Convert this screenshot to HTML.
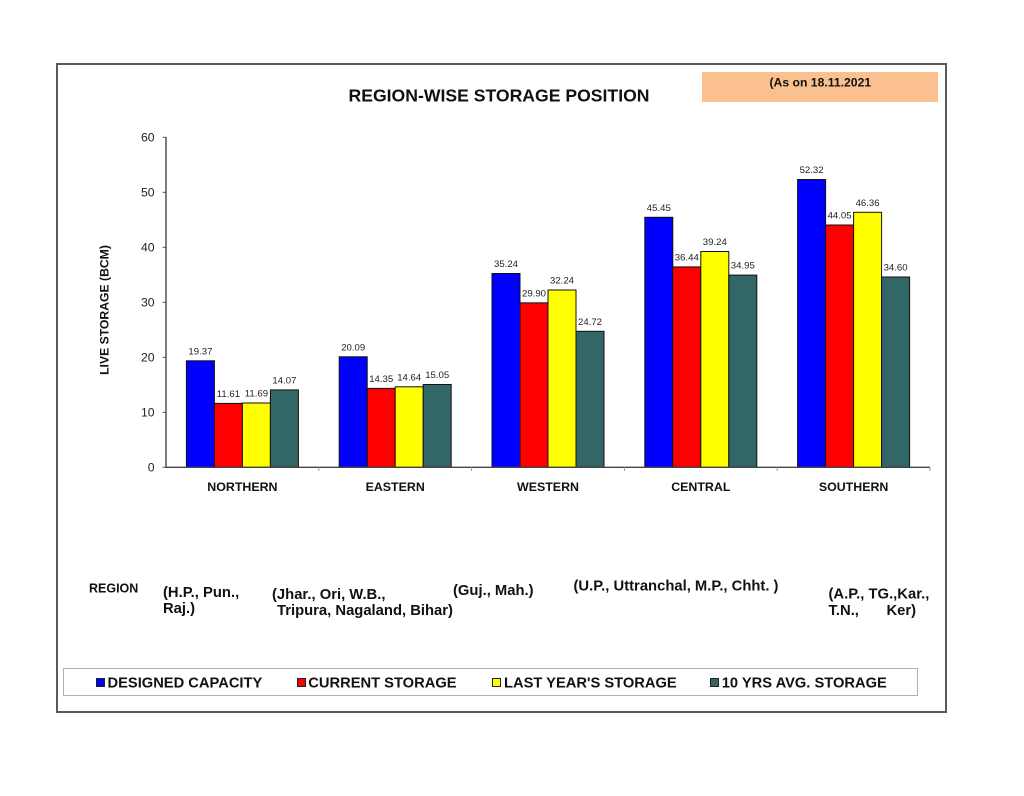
<!DOCTYPE html>
<html>
<head>
<meta charset="utf-8">
<style>
  html,body{margin:0;padding:0;background:#fff;}
  svg{display:block;}
  text{font-family:"Liberation Sans", Arial, sans-serif;}
</style>
</head>
<body>
<svg width="1024" height="796" viewBox="0 0 1024 796" xmlns="http://www.w3.org/2000/svg">
  <rect x="0" y="0" width="1024" height="796" fill="#fff"/>
  <!-- outer frame -->
  <rect x="57" y="64" width="889" height="648" fill="none" stroke="#5a5a5a" stroke-width="2"/>

  <!-- title -->
  <text x="348.5" y="101.3" font-size="17.5" font-weight="bold" fill="#111" textLength="301" lengthAdjust="spacingAndGlyphs">REGION-WISE STORAGE POSITION</text>

  <!-- date box -->
  <rect x="702" y="72" width="236" height="30" fill="#FAC090"/>
  <text x="769.5" y="86.7" font-size="12.2" font-weight="bold" fill="#111">(As on 18.11.2021</text>

  <!-- y axis title -->
  <text transform="translate(108.4,310) rotate(-90)" text-anchor="middle" font-size="12.2" font-weight="bold" fill="#111">LIVE STORAGE (BCM)</text>

  <!-- y axis ticks & labels -->
  <g font-size="12.2" fill="#222" text-anchor="end">
    <text x="154.5" y="471.6">0</text>
    <text x="154.5" y="416.6">10</text>
    <text x="154.5" y="361.6">20</text>
    <text x="154.5" y="306.6">30</text>
    <text x="154.5" y="251.6">40</text>
    <text x="154.5" y="196.6">50</text>
    <text x="154.5" y="141.6">60</text>
  </g>
  <g stroke="#555" stroke-width="1">
    <line x1="162.5" y1="467.3" x2="166" y2="467.3"/>
    <line x1="162.5" y1="412.3" x2="166" y2="412.3"/>
    <line x1="162.5" y1="357.3" x2="166" y2="357.3"/>
    <line x1="162.5" y1="302.3" x2="166" y2="302.3"/>
    <line x1="162.5" y1="247.3" x2="166" y2="247.3"/>
    <line x1="162.5" y1="192.3" x2="166" y2="192.3"/>
    <line x1="162.5" y1="137.3" x2="166" y2="137.3"/>
  </g>

  <!-- bars -->
  <g stroke="#111" stroke-width="1">
    <!-- Northern -->
    <rect x="186.4" y="360.8" width="28" height="106.5" fill="#0000FF"/>
    <rect x="214.4" y="403.4" width="28" height="63.9" fill="#FF0000"/>
    <rect x="242.4" y="403.0" width="28" height="64.3" fill="#FFFF00"/>
    <rect x="270.4" y="389.9" width="28" height="77.4" fill="#336666"/>
    <!-- Eastern -->
    <rect x="339.2" y="356.8" width="28" height="110.5" fill="#0000FF"/>
    <rect x="367.2" y="388.4" width="28" height="78.9" fill="#FF0000"/>
    <rect x="395.2" y="386.8" width="28" height="80.5" fill="#FFFF00"/>
    <rect x="423.2" y="384.5" width="28" height="82.8" fill="#336666"/>
    <!-- Western -->
    <rect x="492.0" y="273.5" width="28" height="193.8" fill="#0000FF"/>
    <rect x="520.0" y="302.85" width="28" height="164.45" fill="#FF0000"/>
    <rect x="548.0" y="290.0" width="28" height="177.3" fill="#FFFF00"/>
    <rect x="576.0" y="331.3" width="28" height="136.0" fill="#336666"/>
    <!-- Central -->
    <rect x="644.8" y="217.3" width="28" height="250.0" fill="#0000FF"/>
    <rect x="672.8" y="266.9" width="28" height="200.4" fill="#FF0000"/>
    <rect x="700.8" y="251.5" width="28" height="215.8" fill="#FFFF00"/>
    <rect x="728.8" y="275.1" width="28" height="192.2" fill="#336666"/>
    <!-- Southern -->
    <rect x="797.6" y="179.5" width="28" height="287.8" fill="#0000FF"/>
    <rect x="825.6" y="225.0" width="28" height="242.3" fill="#FF0000"/>
    <rect x="853.6" y="212.3" width="28" height="255.0" fill="#FFFF00"/>
    <rect x="881.6" y="277.0" width="28" height="190.3" fill="#336666"/>
  </g>

  <!-- axes -->
  <line x1="166" y1="137" x2="166" y2="467.3" stroke="#444" stroke-width="1.4"/>
  <line x1="166" y1="467.3" x2="930" y2="467.3" stroke="#444" stroke-width="1.4"/>
  <g stroke="#999" stroke-width="1">
    <line x1="318.8" y1="467.3" x2="318.8" y2="471"/>
    <line x1="471.6" y1="467.3" x2="471.6" y2="471"/>
    <line x1="624.4" y1="467.3" x2="624.4" y2="471"/>
    <line x1="777.2" y1="467.3" x2="777.2" y2="471"/>
    <line x1="930" y1="467.3" x2="930" y2="471"/>
  </g>

  <!-- data labels -->
  <g font-size="9.6" fill="#222" text-anchor="middle">
    <text x="200.4" y="354.3">19.37</text>
    <text x="228.4" y="396.9">11.61</text>
    <text x="256.4" y="396.5">11.69</text>
    <text x="284.4" y="383.4">14.07</text>

    <text x="353.2" y="350.3">20.09</text>
    <text x="381.2" y="381.9">14.35</text>
    <text x="409.2" y="380.3">14.64</text>
    <text x="437.2" y="378.0">15.05</text>

    <text x="506.0" y="267.0">35.24</text>
    <text x="534.0" y="296.35">29.90</text>
    <text x="562.0" y="283.5">32.24</text>
    <text x="590.0" y="324.8">24.72</text>

    <text x="658.8" y="210.8">45.45</text>
    <text x="686.8" y="260.4">36.44</text>
    <text x="714.8" y="245.0">39.24</text>
    <text x="742.8" y="268.6">34.95</text>

    <text x="811.6" y="173.0">52.32</text>
    <text x="839.6" y="218.5">44.05</text>
    <text x="867.6" y="205.8">46.36</text>
    <text x="895.6" y="270.5">34.60</text>
  </g>

  <!-- category labels -->
  <g font-size="12.4" font-weight="bold" fill="#111" text-anchor="middle">
    <text x="242.4" y="491.2">NORTHERN</text>
    <text x="395.2" y="491.2">EASTERN</text>
    <text x="548.0" y="491.2">WESTERN</text>
    <text x="700.8" y="491.2">CENTRAL</text>
    <text x="853.6" y="491.2">SOUTHERN</text>
  </g>

  <!-- region descriptions -->
  <text x="89" y="592.5" font-size="12.5" font-weight="bold" fill="#111">REGION</text>
  <g font-size="14.8" font-weight="bold" fill="#111">
    <text x="163" y="597">(H.P., Pun.,</text>
    <text x="163" y="613">Raj.)</text>
    <text x="272" y="599">(Jhar., Ori, W.B.,</text>
    <text x="277" y="615">Tripura, Nagaland, Bihar)</text>
    <text x="453" y="595">(Guj., Mah.)</text>
    <text x="573.5" y="590.5">(U.P., Uttranchal, M.P., Chht. )</text>
    <text x="828.5" y="598.5">(A.P., TG.,Kar.,</text>
    <text x="828.5" y="615">T.N.,</text>
    <text x="886.5" y="615">Ker)</text>
  </g>

  <!-- legend -->
  <rect x="63.5" y="668.5" width="854" height="27" fill="#fff" stroke="#b0b0b0" stroke-width="1"/>
  <g stroke="#222" stroke-width="1">
    <rect x="96.5" y="678.5" width="8" height="8" fill="#0000FF"/>
    <rect x="297.5" y="678.5" width="8" height="8" fill="#FF0000"/>
    <rect x="492.5" y="678.5" width="8" height="8" fill="#FFFF00"/>
    <rect x="710.5" y="678.5" width="8" height="8" fill="#336666"/>
  </g>
  <g font-size="14.7" font-weight="bold" fill="#111">
    <text x="107.5" y="687.5">DESIGNED CAPACITY</text>
    <text x="308.3" y="687.5">CURRENT STORAGE</text>
    <text x="504" y="687.5">LAST YEAR'S STORAGE</text>
    <text x="721.7" y="687.5">10 YRS AVG. STORAGE</text>
  </g>
</svg>
</body>
</html>
